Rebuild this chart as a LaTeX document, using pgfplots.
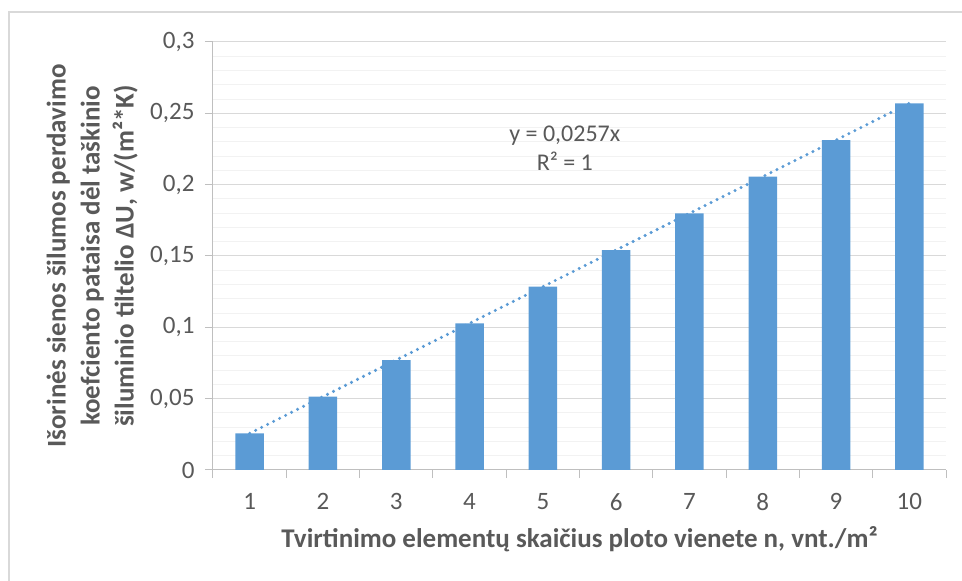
\documentclass[border=0pt]{standalone}
\usepackage{pgfplots}
\pgfplotsset{compat=1.18}
\usepackage{fontspec}
\setmainfont{Carlito}
\definecolor{barblue}{HTML}{5B9BD5}
\definecolor{txtgray}{HTML}{595959}
\definecolor{gridmaj}{HTML}{D9D9D9}
\definecolor{gridmin}{HTML}{F2F2F2}
\definecolor{axgray}{HTML}{BFBFBF}
\begin{document}
\begin{tikzpicture}[x=1pt,y=1pt]
\path[use as bounding box] (0,0) rectangle (962,581);
\draw[gridmaj, line width=1.5pt] (9,-5) -- (9,569) -- (967,569);
\begin{axis}[
  at={(213pt,111pt)}, anchor=south west,
  width=733pt, height=428pt, scale only axis,
  xmin=0.5, xmax=10.5, ymin=0, ymax=0.3,
  axis x line*=bottom, axis y line*=left,
  axis line style={axgray, line width=1pt, -},
  tick align=outside,
  major tick length=8pt, minor tick length=0pt,
  tick style={axgray, line width=1pt},
  ytick={0,0.05,0.1,0.15,0.2,0.25,0.3},
  yticklabels={0,{0,05},{0,1},{0,15},{0,2},{0,25},{0,3}},
  minor y tick num=4,
  ymajorgrids, yminorgrids,
  major grid style={gridmaj, line width=1pt},
  minor grid style={gridmin, line width=1pt},
  xtick={0.5,1.5,2.5,3.5,4.5,5.5,6.5,7.5,8.5,9.5,10.5},
  xticklabels={},
  extra x ticks={1,2,3,4,5,6,7,8,9,10},
  extra x tick labels={1,2,3,4,5,6,7,8,9,10},
  extra x tick style={major tick length=0pt, grid=none, xticklabel style={yshift=-20pt}},
  ticklabel style={font=\fontsize{25}{29}\selectfont, text=txtgray},
  yticklabel style={xshift=-7pt},
  xlabel={Tvirtinimo elementų skaičius ploto vienete n, vnt./m²},
  xlabel style={at={(axis description cs:0.5,-0.182)}, anchor=base, font=\bfseries\fontsize{27}{31}\selectfont, text=txtgray},
  ylabel={Išorinės sienos šilumos perdavimo\\koefciento pataisa dėl taškinio\\šiluminio tiltelio ΔU, w/(m²*K)},
  ylabel style={at={(axis description cs:-0.165,0.5)}, anchor=center, rotate=0, align=center, font=\bfseries\fontsize{27}{34}\selectfont, text=txtgray},
]
\addplot[ybar, bar width=28.5pt, fill=barblue, draw=none] coordinates {
  (1,0.0257) (2,0.0514) (3,0.0771) (4,0.1028) (5,0.1285)
  (6,0.1542) (7,0.1799) (8,0.2056) (9,0.2313) (10,0.2570)
};
\addplot[barblue, line width=3.4pt, line cap=round, dash pattern=on 0pt off 6.7pt] coordinates {
  (1,0.0257) (10,0.2570)
};
\node[font=\fontsize{24}{29}\selectfont, text=txtgray, align=center] at (axis cs:5.3,0.2255) {y = 0,0257x\\R² = 1};
\end{axis}
\end{tikzpicture}
\end{document}
